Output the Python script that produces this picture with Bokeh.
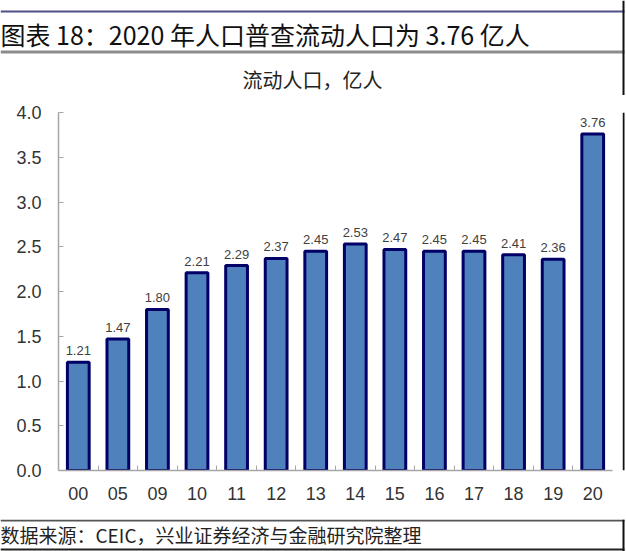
from bokeh.plotting import figure
from bokeh.layouts import column, row
from bokeh.models import Range1d, FixedTicker, ColumnDataSource
from bokeh.core.properties import value
from bokeh.embed import file_html
from bokeh.resources import INLINE

# ---- data ----
categories = ["00", "05", "09", "10", "11", "12", "13", "14", "15", "16", "17", "18", "19", "20"]
values = [1.21, 1.47, 1.80, 2.21, 2.29, 2.37, 2.45, 2.53, 2.47, 2.45, 2.45, 2.41, 2.36, 3.76]
value_labels = ["%.2f" % v for v in values]
y_ticks = [0.0, 0.5, 1.0, 1.5, 2.0, 2.5, 3.0, 3.5, 4.0]
title_text = "图表 18：2020 年人口普查流动人口为 3.76 亿人"
subtitle_text = "流动人口，亿人"
source_text = "数据来源：CEIC，兴业证券经济与金融研究院整理"

W, H = 626, 551
HEAD_H = 95          # header band (title + subtitle)
FOOT_TOP = 519       # footer band starts here
FL, FT, FR, FB = 58, 112, 612, 470  # chart frame edges in page px
STRIP = 4            # right border strip width
MAIN_W = W - STRIP
MAIN_H = FOOT_TOP - HEAD_H

CJK = value("Noto Sans CJK SC")


def deco_fig(w, y0, y1):
    f = figure(width=w, height=y1 - y0, output_backend="svg", toolbar_location=None,
               x_range=Range1d(0, w), y_range=Range1d(y1, y0),
               x_axis_type=None, y_axis_type=None, min_border=0)
    f.outline_line_color = None
    f.xgrid.visible = False
    f.ygrid.visible = False
    f.background_fill_color = "white"
    f.border_fill_color = "white"
    return f


# ---- header ----
head = deco_fig(W, 0, HEAD_H)
head.quad(left=[0, 0, 622], right=[624, 624, 624], top=[10, 50, 0], bottom=[12, 53, HEAD_H],
          fill_color=["#4F4F86", "#8C8C8C", "#111111"], line_color=None)
head.text(x=[0], y=[33], text=[title_text], text_align="left", text_baseline="middle",
          text_font=CJK, text_font_size="25px", text_color="#111111")
head.text(x=[312], y=[79], text=[subtitle_text], text_align="center", text_baseline="middle",
          text_font=CJK, text_font_size="20px", text_color="#222222")

# ---- footer ----
foot = deco_fig(W, FOOT_TOP, H)
foot.quad(left=[0, 0, 622], right=[624, 624, 624], top=[FOOT_TOP, 548, FOOT_TOP], bottom=[521, 550, H],
          fill_color=["#555555", "#222222", "#111111"], line_color=None)
foot.text(x=[0], y=[534], text=[source_text], text_align="left", text_baseline="middle",
          text_font=CJK, text_font_size="19px", text_color="#222222")

# ---- right border strip beside the chart ----
strip = deco_fig(STRIP, HEAD_H, FOOT_TOP)
strip.quad(left=[0], right=[2], top=[HEAD_H], bottom=[FOOT_TOP], fill_color="#111111", line_color=None)

# ---- main chart ----
xs = [i + 0.5 for i in range(len(categories))]
src = ColumnDataSource(dict(x=xs, top=values, lab=value_labels))

p = figure(width=MAIN_W, height=MAIN_H, output_backend="svg", toolbar_location=None,
           x_range=Range1d(0, len(categories)), y_range=Range1d(0, 4),
           min_border_left=FL, min_border_right=MAIN_W - FR,
           min_border_top=FT - HEAD_H, min_border_bottom=FOOT_TOP - FB)
p.outline_line_color = None
p.background_fill_color = "white"
p.border_fill_color = "white"
p.xgrid.visible = False
p.ygrid.visible = False

p.vbar(x="x", top="top", width=0.55, bottom=0, source=src,
       fill_color="#4F81BD", line_color="#000066", line_width=3)

p.text(x="x", y="top", text="lab", source=src, y_offset=-7,
       text_align="center", text_baseline="bottom",
       text_font=value("Liberation Sans"), text_font_size="13px", text_color="#404040")

ya = p.yaxis[0]
ya.ticker = FixedTicker(ticks=y_ticks)
ya.major_label_overrides = {t: "%.1f" % t for t in y_ticks}
ya.axis_line_color = "#A6A6A6"
ya.axis_line_width = 1.5
ya.major_tick_line_color = "#A6A6A6"
ya.major_tick_in = 5
ya.major_tick_out = 0
ya.minor_tick_line_color = None
ya.major_label_standoff = 17
ya.major_label_text_font = "Liberation Sans"
ya.major_label_text_font_size = "18px"
ya.major_label_text_color = "#333333"

xa = p.xaxis[0]
xa.ticker = FixedTicker(ticks=xs, minor_ticks=list(range(1, len(categories))))
xa.major_label_overrides = {x: c for x, c in zip(xs, categories)}
xa.axis_line_color = "#A6A6A6"
xa.axis_line_width = 1.5
xa.major_tick_line_color = None
xa.minor_tick_line_color = "#A6A6A6"
xa.minor_tick_in = 5
xa.minor_tick_out = 0
xa.major_label_standoff = 10
xa.major_label_text_font = "Liberation Sans"
xa.major_label_text_font_size = "18px"
xa.major_label_text_color = "#333333"

layout = column(head, row(p, strip, spacing=0), foot, spacing=0)

open("out.html", "w").write(file_html(layout, INLINE))
